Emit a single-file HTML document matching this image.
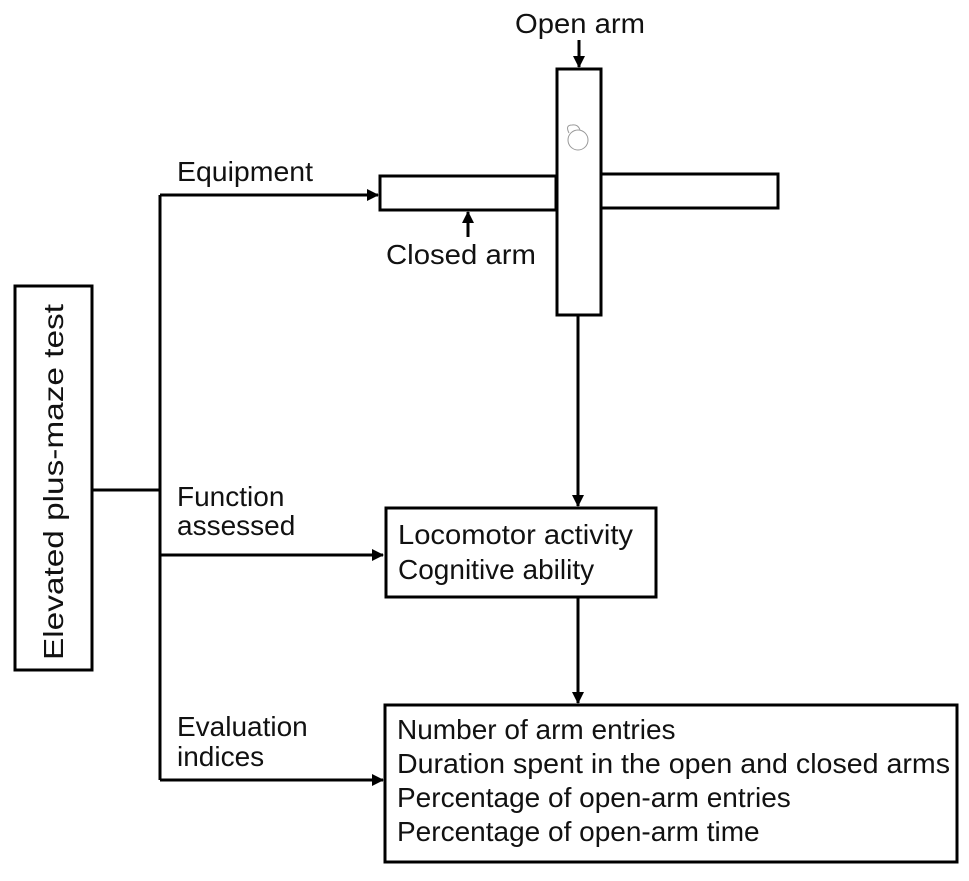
<!DOCTYPE html>
<html><head><style>
body{margin:0;background:#fff;}
svg text{font-family:"Liberation Sans",Arial,sans-serif;font-size:28px;fill:#111;}
</style></head><body>
<svg width="969" height="876" viewBox="0 0 969 876" xmlns="http://www.w3.org/2000/svg">
<defs><marker id="a" markerWidth="12" markerHeight="12" refX="11" refY="6" orient="auto" markerUnits="userSpaceOnUse"><path d="M0,0 L12,6 L0,12 z" fill="#000"/></marker></defs>
<g stroke="#000" stroke-width="3" fill="none">
<rect x="15" y="286" width="77" height="384"/>
<line x1="92" y1="490" x2="160" y2="490"/>
<line x1="160" y1="195" x2="160" y2="780"/>
<line x1="160" y1="195" x2="378" y2="195" marker-end="url(#a)"/>
<line x1="160" y1="555" x2="383" y2="555" marker-end="url(#a)"/>
<line x1="160" y1="780" x2="383" y2="780" marker-end="url(#a)"/>
<rect x="380" y="176" width="176" height="34"/>
<rect x="601" y="174" width="177" height="34"/>
<rect x="557" y="69" width="44" height="246"/>
<line x1="579" y1="40" x2="579" y2="67" marker-end="url(#a)"/>
<line x1="468" y1="237" x2="468" y2="212" marker-end="url(#a)"/>
<line x1="578" y1="315" x2="578" y2="506" marker-end="url(#a)"/>
<rect x="386" y="508" width="270" height="89"/>
<line x1="578" y1="597" x2="578" y2="703" marker-end="url(#a)"/>
<rect x="385" y="705" width="572" height="157"/>
</g>
<g stroke="#999" stroke-width="1" fill="none">
<circle cx="578" cy="140" r="10"/><path d="M569,133 Q565,125 572,125 Q578,124 580,130"/>
</g>
<text x="515" y="33" textLength="130" lengthAdjust="spacingAndGlyphs">Open arm</text>
<text x="177" y="181" textLength="136" lengthAdjust="spacingAndGlyphs">Equipment</text>
<text x="386" y="264" textLength="150" lengthAdjust="spacingAndGlyphs">Closed arm</text>
<text x="177" y="506">Function</text>
<text x="177" y="535">assessed</text>
<text x="177" y="736">Evaluation</text>
<text x="177" y="766">indices</text>
<text x="398" y="544" textLength="235" lengthAdjust="spacingAndGlyphs">Locomotor activity</text>
<text x="398" y="579">Cognitive ability</text>
<text x="397" y="739">Number of arm entries</text>
<text x="397" y="773" textLength="553" lengthAdjust="spacingAndGlyphs">Duration spent in the open and closed arms</text>
<text x="397" y="807">Percentage of open-arm entries</text>
<text x="397" y="841">Percentage of open-arm time</text>
<text transform="translate(63,482) rotate(-90)" text-anchor="middle" textLength="356" lengthAdjust="spacingAndGlyphs">Elevated plus-maze test</text>
</svg>
</body></html>
